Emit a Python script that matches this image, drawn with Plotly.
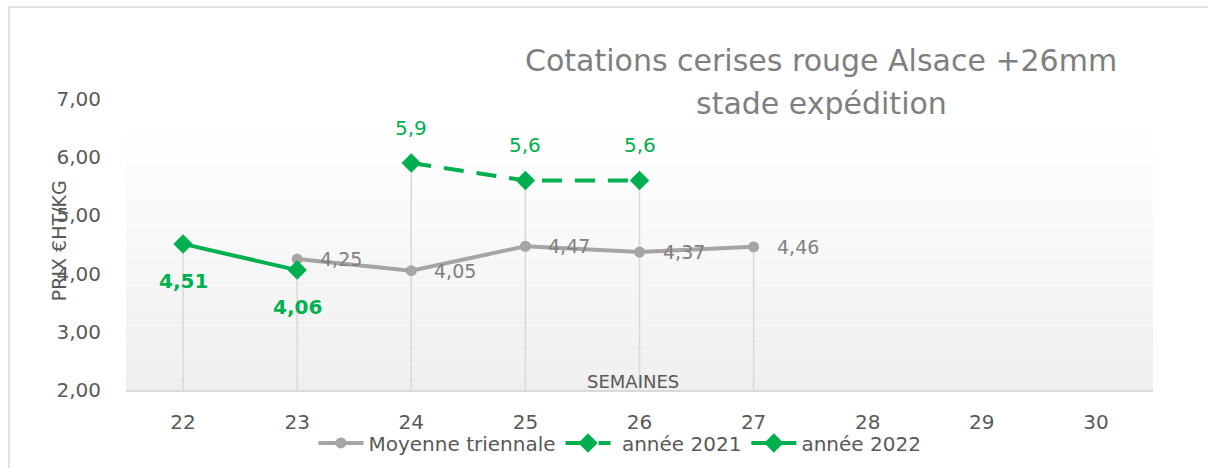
import plotly.graph_objects as go

weeks = ["22", "23", "24", "25", "26", "27", "28", "29", "30"]
moyenne = [None, 4.25, 4.05, 4.47, 4.37, 4.46, None, None, None]
annee_2021 = [None, None, 5.9, 5.6, 5.6, None, None, None, None]
annee_2022 = [4.51, 4.06, None, None, None, None, None, None, None]
labels_moy = ["4,25", "4,05", "4,47", "4,37", "4,46"]
labels_2021 = ["5,9", "5,6", "5,6"]
labels_2022 = ["4,51", "4,06"]
title_lines = ["Cotations cerises rouge Alsace +26mm", "stade expédition"]

GRAY = "#a5a5a5"
GREEN = "#00b050"
TXT = "#595959"
FONT = "DejaVu Sans"
Y0, Y1 = 2, 7

fig = go.Figure()

# drop lines from the highest point of each week to the axis
dx, dy = [], []
for i, w in enumerate(weeks):
    vals = [s[i] for s in (moyenne, annee_2021, annee_2022) if s[i] is not None]
    if vals:
        dx += [w, w, None]
        dy += [Y0, max(vals), None]
fig.add_trace(go.Scatter(x=dx, y=dy, mode="lines", line=dict(color="#d9d9d9", width=1.5),
                         showlegend=False, hoverinfo="skip"))

fig.add_trace(go.Scatter(x=weeks, y=moyenne, name="Moyenne triennale", mode="lines+markers",
                         line=dict(color=GRAY, width=4), marker=dict(symbol="circle", size=11, color=GRAY)))
fig.add_trace(go.Scatter(x=weeks, y=annee_2021, name=" année 2021", mode="lines+markers",
                         line=dict(color=GREEN, width=4, dash="20px,13px"),
                         marker=dict(symbol="diamond", size=15, color=GREEN)))
fig.add_trace(go.Scatter(x=weeks, y=annee_2022, name="année 2022", mode="lines+markers",
                         line=dict(color=GREEN, width=4),
                         marker=dict(symbol="diamond", size=15, color=GREEN)))

ann = []
def add_labels(series, labels, **kw):
    pts = [(i, v) for i, v in enumerate(series) if v is not None]
    for (i, v), t in zip(pts, labels):
        ann.append(dict(x=i, y=v, xref="x", yref="y", text=t, showarrow=False, **kw))

add_labels(moyenne, labels_moy, xanchor="left", yanchor="middle", xshift=21,
           font=dict(family=FONT, size=19, color="#808080"))
add_labels(annee_2021, labels_2021, xanchor="center", yanchor="middle", yshift=35,
           font=dict(family=FONT, size=20, color=GREEN))
add_labels(annee_2022, labels_2022, xanchor="center", yanchor="middle", yshift=-37,
           font=dict(family=FONT, size=20, color=GREEN, weight="bold"))

for line, yp in zip(title_lines, [1.134, 0.986]):
    ann.append(dict(text=line, xref="paper", yref="paper", x=0.677, y=yp, xanchor="center",
                    yanchor="middle", showarrow=False,
                    font=dict(family=FONT, size=30, color="#7f7f7f")))
ann.append(dict(text="PRIX €HT/KG", xref="paper", yref="paper", x=-0.065, y=0.512, textangle=-90,
                xanchor="center", yanchor="middle", showarrow=False,
                font=dict(family=FONT, size=19, color=TXT)))
ann.append(dict(text="SEMAINES", xref="paper", yref="y", x=0.494, y=2.14, xanchor="center",
                yanchor="middle", showarrow=False, font=dict(family=FONT, size=18, color=TXT)))

# plot-area gradient background
shapes = []
top = 6.43
n = 40
for k in range(n):
    a = Y0 + (top - Y0) * k / n
    b = Y0 + (top - Y0) * (k + 1) / n
    c = int(239 + (255 - 239) * (k + 0.5) / n)
    shapes.append(dict(type="rect", xref="paper", yref="y", x0=0, x1=1, y0=a, y1=b,
                       fillcolor=f"rgb({c},{c},{c})", line=dict(width=0), layer="below"))
# outer chart border
shapes.append(dict(type="rect", xref="paper", yref="paper", x0=-0.1139, x1=1.06, y0=-0.3, y1=1.316,
                   line=dict(color="#d9d9d9", width=1.5), fillcolor="rgba(0,0,0,0)", layer="below"))

fig.update_layout(
    width=1208, height=468,
    margin=dict(l=126, r=55, t=99, b=78, autoexpand=False),
    paper_bgcolor="white", plot_bgcolor="rgba(0,0,0,0)",
    separators=", ",
    font=dict(family=FONT, size=20, color=TXT),
    showlegend=True,
    legend=dict(orientation="h", x=0.481, xanchor="center", y=-0.115, yanchor="top",
                font=dict(family=FONT, size=20, color=TXT), bgcolor="rgba(0,0,0,0)",
                itemwidth=45, tracegroupgap=0),
    annotations=ann, shapes=shapes,
    xaxis=dict(type="category", range=[-0.5, 8.5], showgrid=False, showline=True,
               linecolor="#d9d9d9", linewidth=2, ticks="", ticklabelstandoff=13,
               tickfont=dict(family=FONT, size=20, color=TXT), zeroline=False, fixedrange=True),
    yaxis=dict(range=[Y0, Y1], dtick=1, tickformat=".2f", showgrid=False, showline=False,
               zeroline=False, ticks="", ticklabelstandoff=24,
               tickfont=dict(family=FONT, size=20, color=TXT), fixedrange=True),
)

fig.write_html("out.html", config={"displayModeBar": False},
               post_script="document.body.style.margin='0';")
